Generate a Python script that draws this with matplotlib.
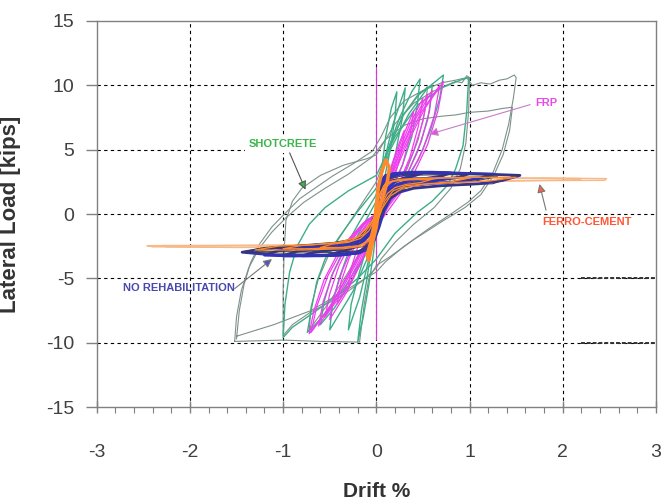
import matplotlib
matplotlib.use("Agg")
import matplotlib.pyplot as plt
from matplotlib.ticker import MultipleLocator

plt.rcParams['font.family'] = ['Liberation Sans', 'DejaVu Sans']
plt.rcParams['axes.unicode_minus'] = False

# ---- data (drift %, load kips) ----
# big shotcrete cycles (thin grey-green)
shot_outer = [
    ([-1.50, -1.47, -1.42, -1.35, -1.25, -1.12, -1.00, -0.82, -0.60, -0.47, -0.25, -0.04, 0.05, 0.15, 0.30, 0.50,
      0.70, 0.85, 0.97, 1.03, 1.12, 1.22, 1.32, 1.40, 1.48, 1.50, 1.47, 1.42, 1.35, 1.25, 1.12, 0.98, 0.80, 0.55,
      0.30, 0.10, 0.00, -0.30, -0.70, -1.10, -1.50],
     [-9.7, -7.5, -5.5, -3.8, -2.3, -1.0, -0.1, 1.2, 2.3, 2.95, 3.9, 4.9, 6.0, 7.5, 8.8, 9.6,
      10.2, 10.4, 10.6, 10.0, 10.2, 10.1, 10.4, 10.5, 10.8, 10.6, 9.0, 7.0, 5.0, 3.2, 1.8, 0.9, 0.0, -1.2,
      -2.5, -3.7, -4.5, -5.8, -7.5, -8.6, -9.5]),
    ([-1.52, -1.50, -1.45, -1.37, -1.26, -1.12, -0.97, -0.78, -0.55, -0.30, -0.05, 0.10, 0.30, 0.50, 0.70, 0.85,
      1.00, 1.20, 1.35, 1.46, 1.43, 1.36, 1.26, 1.12, 0.95, 0.70, 0.40, 0.15, 0.00, -0.08, -0.13, -0.18, -0.60,
      -1.00, -1.52],
     [-9.9, -8.0, -6.0, -4.2, -2.7, -1.4, -0.3, 0.9, 2.0, 3.1, 4.4, 5.8, 6.9, 7.4, 7.6, 7.7,
      7.9, 8.0, 8.2, 8.3, 6.5, 4.6, 3.0, 1.5, 0.5, -0.6, -2.0, -3.3, -4.0, -5.0, -7.0, -9.95, -9.9,
      -9.8, -9.9]),
    ([0.00, 0.20, 0.40, 0.60, 0.75, 0.85, 0.92, 0.97, 1.00, 0.99, 0.96, 0.90, 0.80, 0.62, 0.40, 0.20, 0.05, 0.00,
      -0.15, -0.40, -0.70, -0.90, -1.00, -1.00, -0.99, -0.97, -0.90, -0.80, -0.60, -0.35, -0.10, 0.00],
     [4.6, 7.0, 8.6, 9.5, 10.0, 10.3, 10.2, 10.75, 10.6, 8.0, 5.5, 3.5, 2.0, 0.5, -0.8, -2.2, -3.5, -4.2,
      -5.2, -6.5, -7.6, -8.6, -9.45, -6.0, -3.0, -0.5, 1.0, 2.0, 3.0, 3.8, 4.3, 4.6]),
    ([0.00, 0.15, 0.30, 0.45, 0.55, 0.52, 0.45, 0.33, 0.18, 0.05, -0.10, -0.30, -0.50, -0.72, -0.70, -0.62,
      -0.50, -0.32, -0.12, 0.00],
     [2.5, 5.5, 7.8, 9.2, 9.9, 8.0, 5.8, 3.5, 1.5, 0.0, -2.0, -4.5, -6.8, -9.0, -7.2, -5.0,
      -3.0, -1.0, 1.2, 2.5]),
]

# shotcrete cycles (teal)
shot_inner = [
    ([0.00, 0.05, 0.10, 0.16, 0.22, 0.20, 0.15, 0.08, 0.02, -0.03, -0.08, -0.14, -0.20, -0.16, -0.10, -0.05, 0.00],
     [0.0, 3.0, 6.0, 8.2, 9.5, 7.5, 5.0, 2.5, 0.0, -3.0, -5.5, -8.0, -9.95, -7.5, -5.0, -2.5, 0.0]),
    ([0.00, 0.08, 0.18, 0.31, 0.28, 0.20, 0.10, 0.00, -0.08, -0.18, -0.30, -0.27, -0.18, -0.08, 0.00],
     [0.5, 4.0, 7.0, 9.8, 7.5, 4.5, 2.0, -0.5, -3.5, -6.5, -9.0, -7.0, -4.5, -2.0, 0.5]),
    ([0.00, 0.10, 0.25, 0.38, 0.47, 0.44, 0.38, 0.28, 0.15, 0.02, -0.10, -0.25, -0.40, -0.50, -0.47, -0.40,
      -0.30, -0.15, 0.00],
     [1.0, 4.5, 7.5, 9.5, 10.5, 8.5, 6.0, 3.8, 1.8, -0.5, -3.5, -6.0, -7.8, -9.0, -7.0, -5.0,
      -3.0, -1.0, 1.0]),
    ([0.00, 0.12, 0.28, 0.45, 0.60, 0.57, 0.48, 0.35, 0.20, 0.05, -0.12, -0.30, -0.45, -0.60, -0.56, -0.48,
      -0.35, -0.18, 0.00],
     [1.5, 4.8, 7.6, 9.3, 10.0, 8.0, 5.6, 3.4, 1.6, -0.5, -3.2, -5.6, -7.3, -8.6, -6.8, -4.8,
      -2.8, -0.6, 1.5]),
    ([0.00, 0.15, 0.35, 0.55, 0.72, 0.68, 0.58, 0.45, 0.30, 0.12, 0.00, -0.15, -0.35, -0.55, -0.74, -0.70,
      -0.64, -0.55, -0.40, -0.20, 0.00],
     [2.0, 5.0, 7.8, 9.8, 10.8, 9.0, 6.5, 4.2, 2.5, 0.8, -1.0, -3.5, -5.8, -7.8, -9.2, -7.5,
      -5.3, -3.5, -1.8, 0.2, 2.0]),
    ([0.00, 0.20, 0.45, 0.70, 0.90, 0.99, 0.97, 0.93, 0.85, 0.76, 0.60, 0.44, 0.20, 0.00, -0.20, -0.45,
      -0.70, -0.90, -1.00, -0.98, -0.93, -0.85, -0.72, -0.55, -0.30, 0.00],
     [3.0, 6.0, 8.5, 9.8, 10.4, 10.6, 8.0, 5.3, 3.5, 2.2, 1.0, 0.13, -1.5, -3.5, -5.0, -6.5,
      -7.8, -8.8, -9.6, -7.0, -4.5, -2.5, -0.8, 0.5, 1.8, 3.0]),
]

# FRP cycles (magenta)
frp = [
    ([0.00, 0.06, 0.15, 0.24, 0.30, 0.27, 0.20, 0.11, 0.03, -0.04, -0.12, -0.22, -0.30, -0.27, -0.20, -0.11, -0.03, 0.00],
     [0.0, 1.5, 3.5, 5.4, 6.5, 4.8, 3.0, 1.3, 0.0, -1.3, -3.0, -4.6, -5.6, -4.2, -2.6, -1.2, -0.2, 0.0]),
    ([0.00, 0.08, 0.18, 0.30, 0.40, 0.36, 0.28, 0.16, 0.05, -0.05, -0.15, -0.28, -0.42, -0.38, -0.29, -0.17, -0.05, 0.00],
     [0.0, 1.8, 4.0, 6.3, 8.0, 6.0, 3.8, 1.7, 0.2, -1.5, -3.4, -5.4, -7.0, -5.3, -3.4, -1.6, -0.3, 0.0]),
    ([0.00, 0.10, 0.22, 0.36, 0.50, 0.45, 0.36, 0.22, 0.08, -0.06, -0.18, -0.35, -0.55, -0.50, -0.40, -0.25, -0.08, 0.00],
     [0.0, 2.0, 4.5, 7.0, 9.0, 6.8, 4.4, 2.0, 0.3, -1.6, -3.6, -6.0, -8.0, -6.2, -4.0, -1.9, -0.4, 0.0]),
    ([0.00, 0.11, 0.25, 0.40, 0.55, 0.50, 0.40, 0.26, 0.10, -0.05, -0.16, -0.32, -0.50, -0.46, -0.36, -0.22, -0.07, 0.00],
     [0.0, 2.1, 4.8, 7.3, 9.3, 7.2, 4.9, 2.5, 0.5, -1.6, -3.7, -6.1, -8.2, -6.5, -4.3, -2.0, -0.4, 0.0]),
    ([0.00, 0.12, 0.26, 0.43, 0.60, 0.55, 0.44, 0.28, 0.10, -0.07, -0.22, -0.42, -0.62, -0.57, -0.46, -0.30, -0.10, 0.00],
     [0.0, 2.2, 4.9, 7.5, 9.6, 7.3, 4.8, 2.3, 0.4, -1.7, -3.9, -6.5, -8.7, -6.8, -4.5, -2.2, -0.5, 0.0]),
    ([0.00, 0.13, 0.29, 0.48, 0.68, 0.62, 0.50, 0.32, 0.12, -0.08, -0.25, -0.47, -0.70, -0.64, -0.52, -0.34, -0.12, 0.00],
     [0.0, 2.3, 5.1, 7.9, 10.0, 7.6, 5.0, 2.4, 0.5, -1.8, -4.1, -6.9, -9.2, -7.2, -4.8, -2.4, -0.6, 0.0]),
    ([0.00, 0.15, 0.32, 0.52, 0.72, 0.66, 0.55, 0.38, 0.16, -0.10, -0.28, -0.50, -0.72, -0.67, -0.56, -0.38, -0.14, 0.00],
     [0.0, 2.4, 5.3, 8.2, 10.3, 8.0, 5.4, 2.8, 0.6, -2.0, -4.4, -7.2, -9.3, -7.5, -5.1, -2.6, -0.7, 0.0]),
]

# no rehabilitation cycles (blue)
no_rehab = [
    ([0.00, 0.02, 0.05, 0.10, 0.20, 0.35, 0.50, 0.42, 0.30, 0.20, 0.12, 0.07, 0.03, 0.00, -0.03, -0.08, -0.16,
      -0.32, -0.50, -0.42, -0.30, -0.18, -0.10, -0.05, -0.02, 0.00],
     [0.0, 1.6, 2.6, 3.0, 3.15, 3.2, 3.2, 3.0, 2.8, 2.5, 2.0, 1.3, 0.4, -0.6, -1.6, -2.4, -2.95,
      -3.15, -3.2, -3.0, -2.75, -2.4, -1.8, -1.0, -0.4, 0.0]),
    ([0.00, 0.02, 0.05, 0.10, 0.20, 0.40, 0.60, 0.80, 0.70, 0.52, 0.34, 0.22, 0.14, 0.09, 0.04, 0.01, -0.03,
      -0.08, -0.18, -0.38, -0.60, -0.80, -0.68, -0.48, -0.30, -0.17, -0.09, -0.04, 0.00],
     [0.0, 1.5, 2.5, 2.95, 3.15, 3.25, 3.25, 3.2, 2.95, 2.75, 2.55, 2.3, 1.9, 1.3, 0.4, -0.7, -1.7,
      -2.5, -3.0, -3.2, -3.25, -3.25, -3.0, -2.8, -2.6, -2.3, -1.7, -0.8, 0.0]),
    ([0.00, 0.02, 0.05, 0.11, 0.22, 0.45, 0.75, 1.00, 0.88, 0.65, 0.42, 0.26, 0.16, 0.10, 0.05, 0.01, -0.03,
      -0.09, -0.20, -0.45, -0.75, -1.00, -0.85, -0.60, -0.38, -0.20, -0.10, -0.04, 0.00],
     [0.0, 1.4, 2.4, 2.9, 3.1, 3.2, 3.2, 3.15, 2.85, 2.6, 2.45, 2.2, 1.8, 1.2, 0.3, -0.8, -1.8,
      -2.6, -3.0, -3.2, -3.25, -3.25, -2.9, -2.7, -2.5, -2.2, -1.6, -0.7, 0.0]),
    ([0.00, 0.02, 0.06, 0.12, 0.25, 0.50, 0.90, 1.25, 1.10, 0.85, 0.55, 0.32, 0.20, 0.12, 0.06, 0.02, -0.03,
      -0.09, -0.22, -0.50, -0.90, -1.20, -1.05, -0.75, -0.45, -0.22, -0.11, -0.05, 0.00],
     [0.0, 1.3, 2.3, 2.85, 3.1, 3.2, 3.15, 3.1, 2.75, 2.5, 2.35, 2.15, 1.8, 1.2, 0.3, -0.9, -1.9,
      -2.6, -3.0, -3.2, -3.25, -3.2, -2.85, -2.6, -2.4, -2.1, -1.5, -0.7, 0.0]),
    ([0.00, 0.02, 0.06, 0.12, 0.25, 0.50, 1.00, 1.54, 1.35, 1.10, 0.70, 0.40, 0.25, 0.15, 0.08, 0.03, -0.02,
      -0.08, -0.20, -0.50, -1.00, -1.44, -1.25, -0.90, -0.50, -0.25, -0.12, -0.06, 0.00],
     [0.0, 1.2, 2.2, 2.8, 3.1, 3.2, 3.15, 3.0, 2.6, 2.35, 2.2, 2.0, 1.7, 1.2, 0.2, -1.0, -2.0,
      -2.7, -3.05, -3.2, -3.25, -2.97, -2.75, -2.55, -2.35, -2.1, -1.6, -0.8, 0.0]),
]

# dark outline cycles over the no-rehab plateau
no_rehab_dark = [
    ([0.00, 0.04, 0.12, 0.30, 0.70, 1.20, 1.54, 1.25, 0.90, 0.50, 0.28, 0.14, 0.05, 0.00, -0.06, -0.18, -0.50,
      -1.00, -1.44, -1.20, -0.80, -0.45, -0.22, -0.10, -0.03, 0.00],
     [0.0, 1.8, 2.7, 3.0, 3.05, 3.05, 3.05, 2.35, 2.25, 2.1, 1.85, 1.2, 0.0, -1.2, -2.3, -2.85, -3.0,
      -3.05, -2.95, -2.6, -2.4, -2.2, -1.9, -1.3, -0.5, 0.0]),
    ([0.00, 0.04, 0.12, 0.30, 0.80, 1.30, 1.05, 0.70, 0.40, 0.22, 0.10, 0.03, -0.03, -0.12, -0.35, -0.80,
      -1.30, -1.05, -0.70, -0.38, -0.18, -0.06, 0.00],
     [0.2, 1.9, 2.6, 2.8, 2.85, 2.9, 2.55, 2.4, 2.25, 1.9, 1.0, -0.3, -1.5, -2.5, -2.8, -2.9,
      -2.9, -2.6, -2.45, -2.25, -1.8, -0.8, 0.2]),
]

# ferro-cement cycles (orange)
ferro = [
    ([0.00, 0.03, 0.08, 0.18, 0.35, 0.60, 0.48, 0.32, 0.20, 0.12, 0.06, 0.02, -0.03, -0.08, -0.18, -0.35,
      -0.60, -0.48, -0.30, -0.17, -0.08, -0.03, 0.00],
     [0.0, 1.3, 2.2, 2.55, 2.65, 2.7, 2.45, 2.3, 2.05, 1.6, 0.8, -0.3, -1.3, -2.1, -2.45, -2.6,
      -2.6, -2.35, -2.2, -1.9, -1.3, -0.6, 0.0]),
    ([0.00, 0.03, 0.09, 0.20, 0.45, 0.75, 1.00, 0.80, 0.55, 0.32, 0.18, 0.09, 0.03, -0.03, -0.09, -0.20,
      -0.45, -0.75, -1.00, -0.80, -0.50, -0.28, -0.14, -0.05, 0.00],
     [0.0, 1.4, 2.3, 2.6, 2.75, 2.8, 2.8, 2.5, 2.35, 2.2, 1.8, 1.0, -0.2, -1.3, -2.1, -2.5,
      -2.65, -2.7, -2.7, -2.45, -2.3, -2.1, -1.6, -0.7, 0.0]),
    ([0.00, 0.03, 0.10, 0.25, 0.60, 1.00, 1.50, 1.20, 0.85, 0.50, 0.28, 0.15, 0.06, 0.00, -0.06, -0.15,
      -0.35, -0.80, -1.30, -1.05, -0.70, -0.40, -0.20, -0.08, 0.00],
     [0.0, 1.5, 2.4, 2.7, 2.8, 2.85, 2.85, 2.55, 2.45, 2.3, 2.0, 1.4, 0.4, -0.8, -1.9, -2.5,
      -2.7, -2.8, -2.8, -2.5, -2.4, -2.2, -1.8, -0.9, 0.0]),
]

# last ferro-cement cycles, pale tails out to +/-2.5 %
ferro_tail = [
    ([0.00, 0.05, 0.20, 0.60, 1.20, 1.80, 2.47, 2.45, 1.90, 1.30, 0.70, 0.30, 0.12, 0.04, 0.00, -0.06,
      -0.20, -0.60, -1.20, -1.80, -2.46, -2.40, -1.80, -1.20, -0.60, -0.25, -0.10, -0.03, 0.00],
     [0.0, 1.8, 2.5, 2.7, 2.75, 2.8, 2.75, 2.62, 2.6, 2.55, 2.45, 2.2, 1.4, 0.3, -0.8, -1.8,
      -2.3, -2.4, -2.42, -2.45, -2.46, -2.55, -2.58, -2.6, -2.55, -2.3, -1.7, -0.8, 0.0]),
    ([0.00, 0.06, 0.25, 0.80, 1.50, 2.20, 2.15, 1.50, 0.90, 0.40, 0.15, 0.05, 0.00, -0.07, -0.25, -0.80,
      -1.50, -2.30, -2.25, -1.50, -0.80, -0.30, -0.10, -0.03, 0.00],
     [0.0, 1.9, 2.55, 2.75, 2.8, 2.75, 2.65, 2.6, 2.5, 2.3, 1.5, 0.4, -0.8, -1.9, -2.35, -2.45,
      -2.45, -2.45, -2.55, -2.6, -2.55, -2.35, -1.8, -0.8, 0.0]),
]

# ferro-cement spikes near zero drift
ferro_peak_x = [0.02, 0.06, 0.10, 0.14, 0.12, 0.08, 0.03, 0.00, -0.04, -0.08, -0.10, -0.06, -0.02, 0.02]
ferro_peak_y = [2.0, 3.3, 4.2, 3.6, 2.6, 1.5, 0.5, -1.0, -2.2, -3.6, -3.2, -2.2, -0.6, 2.0]

# ---- figure ----
fig = plt.figure(figsize=(6.61, 5.01), dpi=100)
ax = fig.add_axes([0.1463, 0.1876, 0.8461, 0.7705])

grid_kw = dict(color='black', linestyle=(0, (3, 3)), linewidth=0.8, zorder=1)
for gx in [-2, -1, 0, 1, 2]:
    ax.axvline(gx, **grid_kw)
for gy in [-10, -5, 0, 5, 10]:
    ax.axhline(gy, **grid_kw)
# heavier dashes on the right edge
for gy in [-5, -10]:
    ax.plot([2.2, 3.0], [gy, gy], color='#333333', linestyle=(0, (2, 1)), linewidth=1.4, zorder=1)

ax.plot([0, 0], [-9.7, 11.4], color='#dd33dd', linewidth=0.8, zorder=2)

for xs, ys in shot_outer:
    ax.plot(xs, ys, color='#7d9189', linewidth=0.8, zorder=3)
for xs, ys in shot_inner:
    ax.plot(xs, ys, color='#3dae88', linewidth=1.0, zorder=3)
for xs, ys in frp:
    ax.plot(xs, ys, color='#f03cf0', linewidth=0.9, zorder=4)
for xs, ys in ferro_tail:
    ax.plot(xs, ys, color='#f6b987', linewidth=1.0, zorder=4)
for xs, ys in no_rehab:
    ax.plot(xs, ys, color='#3232b4', linewidth=2.0, zorder=5)
for xs, ys in no_rehab_dark:
    ax.plot(xs, ys, color='#3a3a4a', linewidth=0.7, zorder=6)
for xs, ys in ferro:
    ax.plot(xs, ys, color='#ff8a2b', linewidth=0.9, zorder=6)
ax.plot(ferro_peak_x, ferro_peak_y, color='#ff8a2b', linewidth=2.5, zorder=6)

# labels with arrows
def label_arrow(text, txy, start, tip, tcolor, lcolor, hcolor, size, box=False):
    t = ax.text(txy[0], txy[1], text, color=tcolor, fontsize=size, fontweight='bold',
                ha='center', va='center', zorder=8,
                family=['Liberation Sans Narrow', 'Liberation Sans'])
    if box:
        t.set_bbox(dict(facecolor='white', edgecolor='none', pad=3))
    ax.annotate('', xy=tip, xytext=start, zorder=8,
                arrowprops=dict(arrowstyle='-|>,head_length=0.5,head_width=0.25',
                                ec=lcolor, fc=hcolor, lw=0.8, shrinkA=0, shrinkB=0))

label_arrow('SHOTCRETE', (-1.0, 5.44), (-0.93, 4.75), (-0.76, 1.89), '#3ab54a', '#555555', '#3ab54a', 8, box=True)
label_arrow('FRP', (1.82, 8.6), (1.65, 8.5), (0.57, 6.2), '#e84ce8', '#c77dc7', '#e84ce8', 8)
label_arrow('FERRO-CEMENT', (2.26, -0.6), (1.82, 0.3), (1.75, 2.33), '#ff5533', '#777777', '#ff6040', 8)
label_arrow('NO REHABILITATION', (-2.12, -5.77), (-1.52, -5.8), (-1.12, -3.5), '#4848b0', '#777777', '#5050d0', 8)

ax.set_xlim(-3, 3)
ax.set_ylim(-15, 15)
ax.xaxis.set_major_locator(MultipleLocator(1))
ax.xaxis.set_minor_locator(MultipleLocator(0.2))
ax.yaxis.set_major_locator(MultipleLocator(5))

for s in ax.spines.values():
    s.set_color('#808080')
    s.set_linewidth(1.0)

ax.tick_params(axis='x', which='major', direction='inout', length=9, width=1, color='#808080',
               labelsize=14, labelcolor='#404040', pad=22)
ax.tick_params(axis='x', which='minor', direction='out', length=4, width=0.8, color='#808080')
ax.tick_params(axis='y', which='major', direction='out', length=8, width=1, color='#808080',
               labelsize=14, labelcolor='#404040', pad=8)

ax.set_xlabel('Drift %', fontsize=15, fontweight='bold', color='#333333')
ax.xaxis.set_label_coords(0.5, -0.195)
ax.set_ylabel('Lateral Load [kips]', fontsize=16, fontweight='bold', color='#333333')
ax.yaxis.set_label_coords(-0.135, 0.5)

fig.savefig('out.png', dpi=100, facecolor='white')
